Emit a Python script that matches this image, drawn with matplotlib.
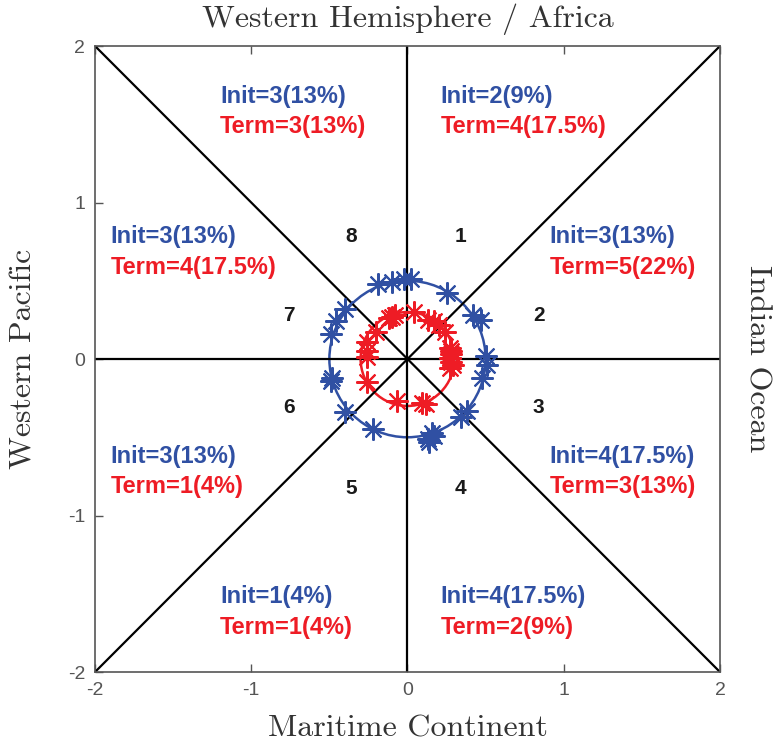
import matplotlib
matplotlib.use('Agg')
import matplotlib.pyplot as plt
from matplotlib.patches import Circle

# MJO phase space: initiation (blue) and termination (red) points

init_x = [-0.19, -0.10, -0.02, 0.02, 0.25, 0.42, 0.47, 0.50, 0.51, 0.48, 0.38, 0.34,
          0.17, 0.16, 0.14, 0.13, -0.22, -0.40, -0.49, -0.48, -0.49, -0.46, -0.40]
init_y = [0.48, 0.49, 0.51, 0.51, 0.42, 0.28, 0.25, 0.02, -0.04, -0.12, -0.33, -0.37,
          -0.49, -0.47, -0.53, -0.51, -0.45, -0.34, -0.14, -0.12, 0.16, 0.24, 0.32]
term_x = [-0.08, -0.12, -0.10, 0.04, 0.13, 0.17, 0.20, 0.24, 0.27, 0.28, 0.27, 0.28,
          0.28, 0.29, 0.27, 0.09, 0.12, -0.07, -0.26, -0.26, -0.26, -0.26, -0.20]
term_y = [0.28, 0.26, 0.27, 0.30, 0.25, 0.24, 0.22, 0.175, 0.07, 0.03, 0.005, 0.05,
          -0.02, -0.04, -0.06, -0.28, -0.29, -0.27, -0.145, 0.11, 0.05, 0.015, 0.175]
init_radius = 0.5
term_radius = 0.3

phase_names = ['1', '2', '3', '4', '5', '6', '7', '8']
phase_x = [0.34, 0.84, 0.84, 0.34, -0.36, -0.76, -0.76, -0.36]
phase_y = [0.78, 0.28, -0.31, -0.83, -0.83, -0.31, 0.28, 0.78]

init_labels = ['Init=2(9%)', 'Init=3(13%)', 'Init=4(17.5%)', 'Init=4(17.5%)',
               'Init=1(4%)', 'Init=3(13%)', 'Init=3(13%)', 'Init=3(13%)']
term_labels = ['Term=4(17.5%)', 'Term=5(22%)', 'Term=3(13%)', 'Term=2(9%)',
               'Term=1(4%)', 'Term=1(4%)', 'Term=4(17.5%)', 'Term=3(13%)']
label_x = [0.21, 0.91, 0.91, 0.21, -1.20, -1.90, -1.90, -1.20]
label_y = [1.68, 0.78, -0.62, -1.52, -1.52, -0.62, 0.78, 1.68]

ticks = [-2, -1, 0, 1, 2]
tick_labels = ['-2', '-1', '0', '1', '2']

blue = '#3050a3'
red = '#ee1c25'
grey = '#555555'

fig = plt.figure(figsize=(7.75, 7.47), dpi=100)
ax = fig.add_axes([0.1226, 0.1004, 0.8064, 0.838])

# phase boundaries
ax.plot([-2, 2], [-2, 2], color='black', lw=1.6)
ax.plot([-2, 2], [2, -2], color='black', lw=1.6)
ax.plot([-2, 2], [0, 0], color='black', lw=1.6)
ax.plot([0, 0], [-2, 2], color='black', lw=1.6)

ax.add_patch(Circle((0, 0), init_radius, fill=False, color=blue, lw=1.8))
ax.add_patch(Circle((0, 0), term_radius, fill=False, color=red, lw=1.8))

ax.plot(init_x, init_y, linestyle='none', marker=(8, 2, 0), markersize=16,
        markeredgewidth=1.5, color=blue)
ax.plot(term_x, term_y, linestyle='none', marker=(8, 2, 0), markersize=16,
        markeredgewidth=1.5, color=red)

for name, x, y in zip(phase_names, phase_x, phase_y):
    ax.text(x, y, name, fontsize=15, fontweight='bold', family='Liberation Sans',
            ha='center', va='center', color='#1a1a1a')

dy = 0.195
for il, tl, x, y in zip(init_labels, term_labels, label_x, label_y):
    ax.text(x, y, il, fontsize=17, fontweight='bold', family='Liberation Sans',
            ha='left', va='center', color=blue)
    ax.text(x, y - dy, tl, fontsize=17, fontweight='bold', family='Liberation Sans',
            ha='left', va='center', color=red)

ax.set_xlim(-2, 2)
ax.set_ylim(-2, 2)
ax.set_xticks(ticks)
ax.set_yticks(ticks)
ax.set_xticklabels(tick_labels, family='Liberation Sans', fontsize=14, color=grey)
ax.set_yticklabels(tick_labels, family='Liberation Sans', fontsize=14, color=grey)
ax.tick_params(direction='in', length=6, width=1, color=grey, top=True, right=True, pad=7)
for sp in ax.spines.values():
    sp.set_color(grey)
    sp.set_linewidth(1.2)

serif = dict(family='cmr10', fontsize=23, color='#333333')
ax.set_xlabel('Maritime Continent', labelpad=12, **serif)
ax.set_ylabel('Western Pacific', labelpad=22, **serif)
ax.set_title('Western Hemisphere / Africa', pad=14, **serif)
ax2 = ax.twinx()
ax2.set_yticks([])
ax2.set_ylabel('Indian Ocean', rotation=270, labelpad=37, **serif)
for sp in ax2.spines.values():
    sp.set_visible(False)

fig.savefig('out.png', dpi=100)
